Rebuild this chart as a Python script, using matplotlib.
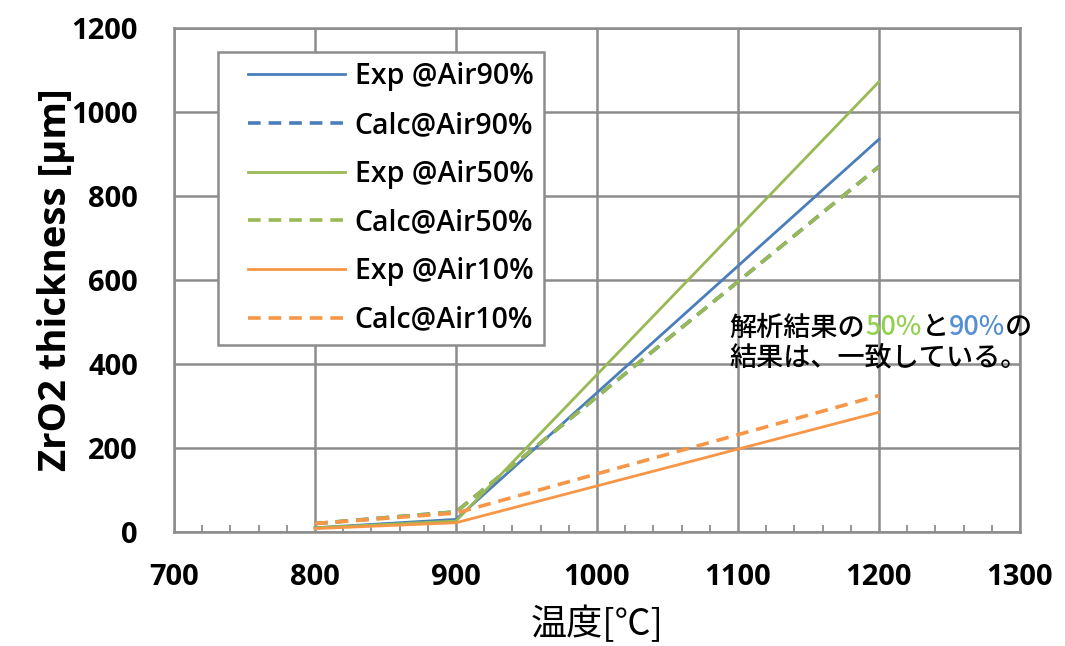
import matplotlib.pyplot as plt
from matplotlib.legend_handler import HandlerLine2D
from matplotlib.ticker import MultipleLocator

# Oxide layer thickness vs temperature
temps = [800, 900, 1200]
exp_air90 = [10, 30, 935]
calc_air90 = [20, 48, 870]
exp_air50 = [10, 26, 1072]
calc_air50 = [20, 48, 870]
exp_air10 = [8, 22, 285]
calc_air10 = [20, 45, 325]

BLUE = "#4a7ebb"
GREEN = "#98b954"
ORANGE = "#f79646"
GRID = "#8c8c8c"

fig = plt.figure(figsize=(10.65, 6.46), dpi=100)
ax = fig.add_axes([0.1634, 0.1765, 0.7943, 0.7802])

lw = 2.0
dash = (0, (3.5, 2.2))
ax.plot(temps, exp_air90, color=BLUE, lw=lw, label="Exp @Air90%")
ax.plot(temps, calc_air90, color=BLUE, lw=lw + 0.6, ls=dash, label="Calc@Air90%")
ax.plot(temps, exp_air50, color=GREEN, lw=lw, label="Exp @Air50%")
ax.plot(temps, calc_air50, color=GREEN, lw=lw + 0.6, ls=dash, label="Calc@Air50%")
ax.plot(temps, exp_air10, color=ORANGE, lw=lw, label="Exp @Air10%")
ax.plot(temps, calc_air10, color=ORANGE, lw=lw + 0.6, ls=dash, label="Calc@Air10%")

ax.set_xlim(700, 1300)
ax.set_ylim(0, 1200)
ax.xaxis.set_major_locator(MultipleLocator(100))
ax.xaxis.set_minor_locator(MultipleLocator(20))
ax.yaxis.set_major_locator(MultipleLocator(200))
ax.grid(True, which="major", color=GRID, lw=1.8, zorder=0)
ax.set_axisbelow(True)
for s in ax.spines.values():
    s.set_color(GRID)
    s.set_linewidth(1.8)

ax.tick_params(axis="both", which="major", length=0, labelsize=21)
ax.tick_params(axis="y", which="major", pad=26)
ax.tick_params(axis="x", which="major", pad=22)
ax.tick_params(axis="x", which="minor", direction="in", length=5, width=1.3,
               color=GRID)
for lab in ax.get_xticklabels() + ax.get_yticklabels():
    lab.set_fontfamily("Open Sans")
    lab.set_fontweight("bold")

ax.set_ylabel("ZrO2 thickness [μm]", fontsize=27.5, fontweight="bold",
              fontfamily="Open Sans", labelpad=-3)
ax.set_xlabel("温度[℃]", fontsize=26, fontfamily=["Noto Sans CJK JP", "DejaVu Sans"],
              labelpad=10)

# legend handles pushed right a bit inside the frame
hmap = {l: HandlerLine2D(xpad=0.69) for l in ax.get_lines()}
leg = ax.legend(loc="upper left", bbox_to_anchor=(0.052, 0.952), borderaxespad=0,
                fancybox=False, edgecolor=GRID, framealpha=1, handlelength=4.09,
                handletextpad=0.35, labelspacing=0.69, borderpad=0.36,
                handler_map=hmap,
                prop={"family": "Open Sans", "weight": "semibold", "size": 20.5})
leg.get_frame().set_linewidth(1.8)

# annotation with coloured percentages
cjk = ["Noto Sans CJK JP", "DejaVu Sans"]
fs = 19.5
t1 = ax.text(1094, 468, "解析結果の", fontsize=fs, fontfamily=cjk, va="baseline",
             fontweight="medium")
t2 = ax.annotate("50%", xy=(1, 0), xycoords=t1, va="bottom", fontsize=fs,
                 fontfamily=cjk, color="#92d050", fontweight="medium")
t3 = ax.annotate("と", xy=(1, 0), xycoords=t2, va="bottom", fontsize=fs,
                 fontfamily=cjk, fontweight="medium")
t4 = ax.annotate("90%", xy=(1, 0), xycoords=t3, va="bottom", fontsize=fs,
                 fontfamily=cjk, color="#558ed5", fontweight="medium")
ax.annotate("の", xy=(1, 0), xycoords=t4, va="bottom", fontsize=fs, fontfamily=cjk,
            fontweight="medium")
ax.text(1094, 396, "結果は、一致している。", fontsize=fs, fontfamily=cjk, va="baseline",
        fontweight="medium")

fig.savefig("out.png", dpi=100)
